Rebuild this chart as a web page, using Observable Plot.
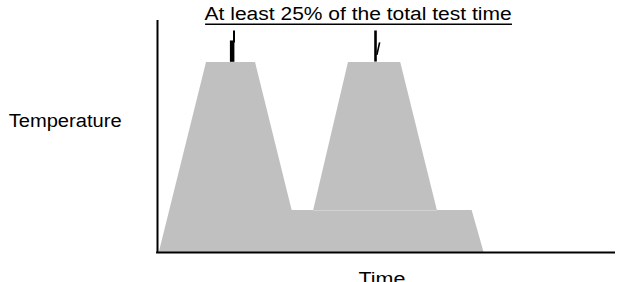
<!DOCTYPE html>
<html>
<head>
<meta charset="utf-8">
<script src="https://cdn.jsdelivr.net/npm/d3@7"></script>
<script src="https://cdn.jsdelivr.net/npm/@observablehq/plot@0.6"></script>
<style>
  html, body { margin: 0; padding: 0; background: #fff; }
  svg text { font-family: "Liberation Sans", Arial, sans-serif; }
</style>
</head>
<body>
<div id="chart"></div>
<script>
// Temperature profile: base (left peak + dwell step) and second peak
const baseTime = [0.4, 10.7, 21.4, 29.4, 68.7, 71.3];
const baseTemp = [0, 81.9, 81.9, 18.1, 18.1, 0];

const peakTime = [34.1, 41.7, 53.1, 61.1];
const peakTemp = [18.1, 81.9, 81.9, 18.1];
const peakBase = 18.1;

// Arrows pointing at the plateaus
const arrowShafts = [
  {x: 16.7, y1: 95.7, y2: 90.5, w: 2},
  {x: 16.3, y1: 91.4, y2: 82.2, w: 4.5},
  {x: 47.6, y1: 95.7, y2: 82.3, w: 2.6}
];
const arrowBarb = [{x1: 48.5, y1: 90.6, x2: 47.9, y2: 85.2}];

const titleText = "At least 25% of the total test time";
const yLabel = "Temperature";
const xLabel = "Time";

const baseData = baseTime.map((t, i) => ({t, v: baseTemp[i]}));
const peakData = peakTime.map((t, i) => ({t, v: peakTemp[i]}));

const fill = "#c0c0c0";

const chart = Plot.plot({
  width: 633,
  height: 282,
  marginLeft: 157,
  marginRight: 18,
  marginTop: 20,
  marginBottom: 30,
  x: {domain: [0, 100], axis: null},
  y: {domain: [0, 100], axis: null},
  style: {fontFamily: "Liberation Sans, Arial, sans-serif", background: "#fff"},
  marks: [
    Plot.areaY(baseData, {x: "t", y: "v", fill, curve: "linear"}),
    Plot.areaY(peakData, {x: "t", y1: peakBase, y2: "v", fill, curve: "linear"}),
    Plot.ruleY([peakBase], {x1: 34.1, x2: 61.1, stroke: "#d2d2d2", strokeWidth: 1}),
    Plot.link(arrowShafts, {x1: "x", x2: "x", y1: "y1", y2: "y2", stroke: "#000", strokeWidth: d => d.w}),
    Plot.link(arrowBarb, {x1: "x1", y1: "y1", x2: "x2", y2: "y2", stroke: "#000", strokeWidth: 1.6}),
    Plot.ruleX([0], {y1: 0, y2: 100, stroke: "#000", strokeWidth: 2}),
    Plot.ruleY([0], {x1: -0.2, x2: 100, stroke: "#000", strokeWidth: 2}),
    Plot.text([titleText], {x: 43.8, y: 102.5, text: d => d, textAnchor: "middle", fontSize: 18, fill: "#000"}),
    Plot.ruleY([98.4], {x1: 10.5, x2: 77.5, stroke: "#000", strokeWidth: 1.5}),
    Plot.text([yLabel], {x: -32.5, y: 56.4, text: d => d, textAnchor: "start", fontSize: 18, fill: "#000"}),
    Plot.text([xLabel], {x: 49.0, y: -11.7, text: d => d, textAnchor: "middle", fontSize: 18, fill: "#000"})
  ]
});

// Match the slightly wide lettering of the original
const widths = {[titleText]: 307, [yLabel]: 113, [xLabel]: 47};
d3.select(chart).selectAll("text").each(function() {
  const s = this.textContent;
  if (widths[s]) {
    this.setAttribute("textLength", widths[s]);
    this.setAttribute("lengthAdjust", "spacingAndGlyphs");
  }
});

document.getElementById("chart").appendChild(chart);
</script>
</body>
</html>
